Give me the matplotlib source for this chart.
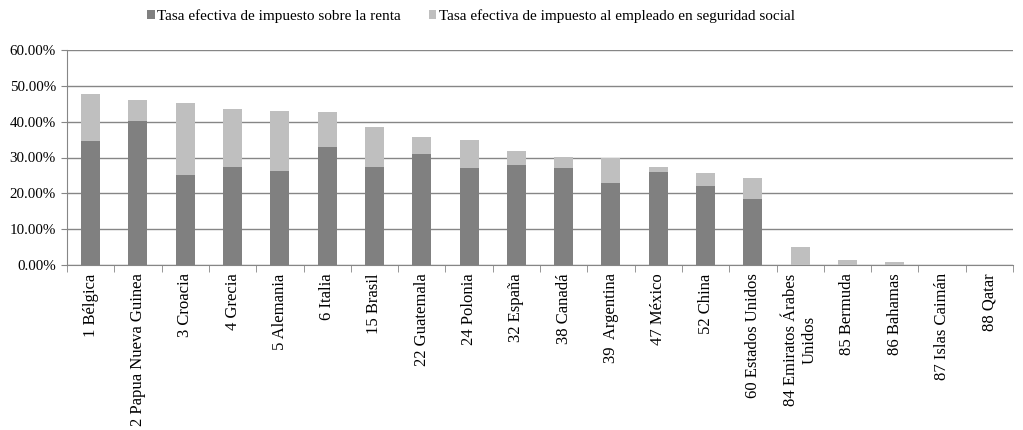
import numpy as np
import matplotlib.pyplot as plt
from matplotlib.ticker import FuncFormatter, MultipleLocator

plt.rcParams['font.family'] = ['Liberation Serif', 'DejaVu Serif']

paises = ['1 Bélgica', '2 Papua Nueva Guinea', '3 Croacia', '4 Grecia', '5 Alemania',
          '6 Italia', '15 Brasil', '22 Guatemala', '24 Polonia', '32 España',
          '38 Canadá', '39  Argentina', '47 México', '52 China', '60 Estados Unidos',
          '84 Emiratos Árabes\nUnidos', '85 Bermuda', '86 Bahamas', '87 Islas Caimán',
          '88 Qatar']
renta = [34.6, 40.2, 25.1, 27.3, 26.2, 33.0, 27.3, 30.9, 27.1, 27.9,
         27.1, 22.8, 26.0, 22.0, 18.4, 0.0, 0.0, 0.0, 0.0, 0.0]
total = [47.7, 46.1, 45.2, 43.5, 43.0, 42.6, 38.4, 35.7, 35.0, 31.7,
         30.2, 30.0, 27.4, 25.8, 24.2, 4.9, 1.5, 0.9, 0.0, 0.0]
seg_social = [t - r for t, r in zip(total, renta)]

fig = plt.figure(figsize=(10.23, 4.3), dpi=100)
ax = fig.add_axes([67 / 1023, 1 - 265 / 430, 946 / 1023, 215 / 430])

x = np.arange(len(paises))
ax.bar(x, renta, width=0.4, color='#808080', label='Tasa efectiva de impuesto sobre la renta', zorder=3)
ax.bar(x, seg_social, width=0.4, bottom=renta, color='#bfbfbf',
       label='Tasa efectiva de impuesto al empleado en seguridad social', zorder=3)

ax.set_xlim(-0.5, len(paises) - 0.5)
ax.set_ylim(0, 60)
ax.yaxis.set_major_locator(MultipleLocator(10))
ax.yaxis.set_major_formatter(FuncFormatter(lambda v, p: '%.2f%%' % v))
ax.grid(axis='y', color='#868686', linewidth=1, zorder=0)

ax.set_xticks(x)
ax.set_xticklabels(paises, rotation=90, fontsize=12, va='top', ha='center',
                   multialignment='center')
ax.tick_params(axis='x', length=0, pad=6)
ax.set_xticks(np.arange(-0.5, len(paises)), minor=True)
ax.tick_params(axis='x', which='minor', length=5, color='#868686')
ax.tick_params(axis='y', length=4, color='#868686', labelsize=10.8, pad=4)

for s in ['top', 'right']:
    ax.spines[s].set_visible(False)
for s in ['left', 'bottom']:
    ax.spines[s].set_color('#868686')

fig.legend(loc='center', bbox_to_anchor=(471 / 1023, 1 - 16 / 430), ncol=2, frameon=False,
           fontsize=11, handlelength=0.5, handleheight=0.5, handletextpad=0.15,
           columnspacing=1.8)

fig.savefig('out.png', dpi=100)
